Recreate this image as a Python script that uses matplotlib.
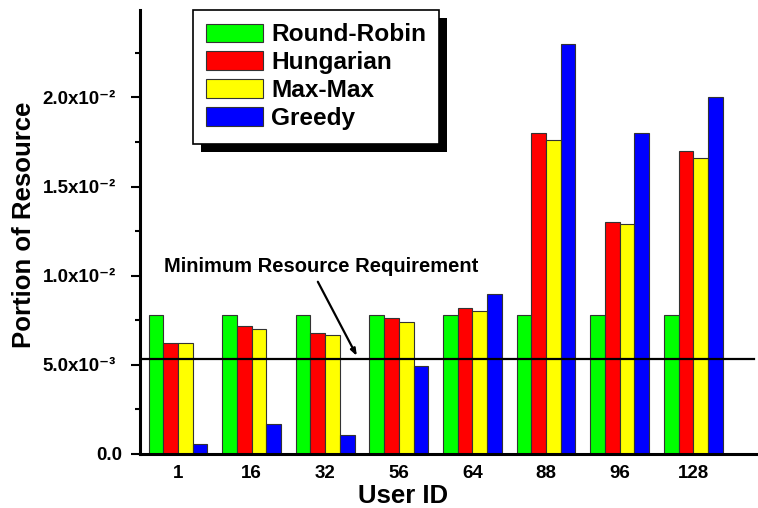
import numpy as np
import matplotlib
matplotlib.use("Agg")
import matplotlib.pyplot as plt
from matplotlib.patches import Rectangle
from matplotlib.ticker import MultipleLocator
import matplotlib.transforms as mtransforms

plt.rcParams["font.family"] = ["Liberation Sans", "DejaVu Sans"]
plt.rcParams["font.weight"] = "bold"

# user groups and per-scheduler resource share
user_ids = ["1", "16", "32", "56", "64", "88", "96", "128"]
round_robin = [0.0078, 0.0078, 0.0078, 0.0078, 0.0078, 0.0078, 0.0078, 0.0078]
hungarian = [0.0062, 0.0072, 0.0068, 0.0076, 0.0082, 0.0180, 0.0130, 0.0170]
max_max = [0.0062, 0.0070, 0.0067, 0.0074, 0.0080, 0.0176, 0.0129, 0.0166]
greedy = [0.00055, 0.00167, 0.00107, 0.00495, 0.0090, 0.0230, 0.0180, 0.0200]
min_requirement = 0.0053

yticks = [0.0, 0.005, 0.010, 0.015, 0.020]
ylabels = ["0.0", "5.0x10⁻³", "1.0x10⁻²", "1.5x10⁻²", "2.0x10⁻²"]

series = [
    ("Round-Robin", round_robin, "#00FF00"),
    ("Hungarian", hungarian, "#FF0000"),
    ("Max-Max", max_max, "#FFFF00"),
    ("Greedy", greedy, "#0000FF"),
]

fig = plt.figure(figsize=(7.58, 5.08), dpi=100)
ax = fig.add_axes([140 / 758, 54 / 508, 618 / 758, 444 / 508])

x = np.arange(len(user_ids))
width = 0.2
for i, (name, vals, color) in enumerate(series):
    ax.bar(x + (i - 1.5) * width, vals, width, color=color, label=name,
           edgecolor="#333333", linewidth=0.8, zorder=2)

ax.axhline(min_requirement, xmin=0, xmax=0.993, color="black", lw=1.6, zorder=3)

ax.set_xlim(-0.516, 7.88)
ax.set_ylim(0, 0.0249)

for side in ("top", "right"):
    ax.spines[side].set_visible(False)
for side in ("left", "bottom"):
    ax.spines[side].set_linewidth(2.2)

ax.set_xticks(x)
ax.set_xticklabels(user_ids, fontsize=13.5, fontweight="bold")
ax.tick_params(axis="x", length=0, pad=8)

ax.yaxis.set_minor_locator(MultipleLocator(0.0025))
ax.set_yticks(yticks)
ax.set_yticklabels(ylabels, fontsize=13.5, fontweight="bold")
ax.tick_params(axis="y", which="major", length=6.5, width=1.5, pad=11)
ax.tick_params(axis="y", which="minor", length=3.5, width=1.5)
# "0.0" sits a little further right than the others
zero_lbl = ax.get_yticklabels()[0]
zero_lbl.set_transform(zero_lbl.get_transform()
                       + mtransforms.ScaledTranslation(7 / 100, 0, fig.dpi_scale_trans))

ax.set_ylabel("Portion of Resource", fontsize=18.5, fontweight="bold")
ax.yaxis.set_label_coords(-0.168, 0.516)
ax.set_xlabel("User ID", fontsize=18.5, fontweight="bold")
ax.xaxis.set_label_coords(0.425, -0.068)

# threshold callout: text plus a separate arrow pointing at the line
ax.text(1.95, 0.01052, "Minimum Resource Requirement", fontsize=14.5,
        fontweight="bold", ha="center", va="center")
ax.annotate("", xy=(2.43, 0.0055), xytext=(1.90, 0.00966),
            arrowprops=dict(arrowstyle="-|>,head_length=0.4,head_width=0.15",
                            color="black", lw=1.6, shrinkA=0, shrinkB=0))

leg = ax.legend(loc="upper left", bbox_to_anchor=(193 / 758, 1 - 10 / 508),
                bbox_transform=fig.transFigure, borderaxespad=0,
                prop={"size": 17.6, "weight": "bold"}, handlelength=2.3,
                handleheight=0.8, handletextpad=0.34, labelspacing=0.2,
                borderpad=0.55, fancybox=False, framealpha=1, edgecolor="black")
leg.get_frame().set_linewidth(1.2)
leg.set_zorder(10)

# solid drop shadow behind the legend box
fig.canvas.draw()
bb = leg.get_window_extent().transformed(fig.transFigure.inverted())
shadow = Rectangle((bb.x0 + 8 / 758, bb.y0 - 8 / 508), bb.width, bb.height,
                   transform=fig.transFigure, facecolor="black", edgecolor="none",
                   zorder=9, clip_on=False)
ax.add_artist(shadow)

fig.savefig("out.png", dpi=100)
